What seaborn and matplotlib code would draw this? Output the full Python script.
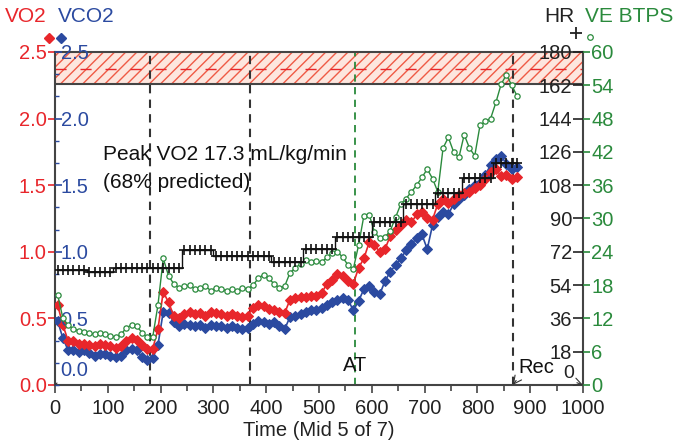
import seaborn as sns
import matplotlib.pyplot as plt
from matplotlib.lines import Line2D
from matplotlib.ticker import MultipleLocator, AutoMinorLocator, FormatStrFormatter

# CPET breath-averaged data
time_s = [5, 15, 25, 35, 45, 55, 65, 75, 85, 95,
          105, 115, 125, 135, 145, 155, 165, 175, 185, 195,
          205, 215, 225, 235, 245, 255, 265, 275, 285, 295,
          305, 315, 325, 335, 345, 355, 365, 375, 385, 395,
          405, 415, 425, 435, 445, 455, 465, 475, 485, 495,
          505, 515, 525, 535, 545, 555, 565, 575, 585, 595,
          605, 615, 625, 635, 645, 655, 665, 675, 685, 695,
          705, 715, 725, 735, 745, 755, 765, 775, 785, 795,
          805, 815, 825, 835, 845, 855, 865, 875]

vo2 = [0.60, 0.45, 0.33, 0.33, 0.31, 0.31, 0.30, 0.29, 0.31, 0.30,
       0.29, 0.28, 0.29, 0.33, 0.35, 0.34, 0.30, 0.27, 0.27, 0.42,
       0.70, 0.62, 0.52, 0.50, 0.53, 0.55, 0.53, 0.54, 0.52, 0.55,
       0.54, 0.53, 0.52, 0.53, 0.52, 0.51, 0.52, 0.58, 0.60, 0.59,
       0.57, 0.56, 0.55, 0.54, 0.64, 0.65, 0.66, 0.66, 0.67, 0.67,
       0.69, 0.76, 0.79, 0.83, 0.82, 0.78, 0.76, 0.88, 0.95, 1.07,
       1.05, 1.00, 1.02, 1.12, 1.16, 1.20, 1.24, 1.22, 1.28, 1.30,
       1.25, 1.24, 1.36, 1.40, 1.37, 1.40, 1.43, 1.44, 1.45, 1.48,
       1.50, 1.55, 1.60, 1.62, 1.57, 1.58, 1.55, 1.56]

vco2 = [0.48, 0.35, 0.26, 0.26, 0.25, 0.26, 0.24, 0.22, 0.23, 0.23,
        0.22, 0.21, 0.22, 0.26, 0.27, 0.26, 0.21, 0.19, 0.20, 0.30,
        0.55, 0.54, 0.47, 0.44, 0.46, 0.45, 0.44, 0.45, 0.43, 0.45,
        0.44, 0.44, 0.43, 0.44, 0.43, 0.42, 0.43, 0.46, 0.48, 0.47,
        0.46, 0.47, 0.44, 0.42, 0.51, 0.52, 0.53, 0.55, 0.56, 0.56,
        0.58, 0.60, 0.62, 0.64, 0.65, 0.64, 0.56, 0.63, 0.72, 0.74,
        0.70, 0.68, 0.78, 0.85, 0.90, 0.95, 1.01, 1.06, 1.10, 1.13,
        1.02, 1.20, 1.26, 1.30, 1.28, 1.36, 1.40, 1.43, 1.47, 1.50,
        1.52, 1.58, 1.65, 1.70, 1.72, 1.66, 1.62, 1.64]

hr_bpm = [62, 62, 62, 62, 62, 62, 61, 61, 61, 61,
          61, 63, 63, 63, 63, 63, 63, 63, 63, 63,
          63, 63, 63, 63, 73, 73, 73, 73, 73, 73,
          69.5, 69.5, 69.5, 69.5, 69.5, 69.5, 69.5, 69.5, 69.5, 69.5,
          69.5, 66.5, 66.5, 66.5, 66.5, 66.5, 66.5, 73.5, 73.5, 73.5,
          73.5, 73.5, 73.5, 80, 80, 80, 80, 80, 80, 80,
          88, 88, 88, 88, 88, 88, 98, 98, 98, 98,
          98, 98, 104, 104, 104, 104, 104, 112, 112, 112,
          112, 112, 112, 120, 120, 120, 120, 120]

ve_lmin = [16.3, 12.0, 10.8, 10.1, 9.8, 9.6, 9.4, 9.1, 9.4, 9.1,
           8.9, 8.6, 9.1, 10.3, 10.8, 10.6, 9.4, 8.6, 8.6, 14.4,
           22.8, 19.7, 18.2, 17.5, 17.8, 18.0, 17.3, 17.5, 17.8, 17.0,
           17.5, 17.3, 17.0, 17.3, 17.0, 17.5, 17.3, 18.0, 19.2, 19.9,
           19.2, 18.2, 17.5, 17.8, 20.2, 21.1, 21.8, 22.6, 22.1, 22.3,
           22.1, 23.0, 23.8, 24.0, 23.0, 21.6, 20.9, 25.2, 30.5, 30.7,
           27.6, 26.4, 26.6, 27.8, 30.2, 32.6, 33.6, 34.8, 36.0, 37.4,
           38.9, 37.2, 34.8, 42.7, 44.6, 42.0, 41.0, 45.1, 42.7, 41.3,
           46.8, 47.5, 48.0, 50.9, 54.2, 55.9, 54.0, 52.1]

phase_lines = [180, 370, 867]
at_time = 568
pred_band = (2.26, 2.5)
pred_peak = 2.37

vo2_ticks = [0.0, 0.5, 1.0, 1.5, 2.0, 2.5]
vco2_ticks = [0.5, 1.0, 1.5, 2.0, 2.5]
hr_ticks = [18, 36, 54, 72, 90, 108, 126, 144, 162, 180]
ve_ticks = [0, 6, 12, 18, 24, 30, 36, 42, 48, 54, 60]

RED = "#e8262b"
BLUE = "#2b4aa0"
GREEN = "#2a8a3c"
FRAME = "#444444"

sns.set_style("ticks")
plt.rcParams['font.family'] = ['Liberation Sans', 'DejaVu Sans']
plt.rcParams['hatch.linewidth'] = 1.0

fig = plt.figure(figsize=(6.79, 4.41), dpi=100)
ax = fig.add_axes([0.081, 0.127, 0.7776, 0.7551])

# predicted peak band
ax.axhspan(pred_band[0], pred_band[1], facecolor="#fde6de", edgecolor="#ef5a45",
           hatch="///", lw=0, zorder=0)
ax.axhline(pred_band[0], color=FRAME, lw=1.5, zorder=1)
ax.axhline(pred_peak, color=RED, lw=1, ls=(0, (8, 10)), zorder=1)

for t in phase_lines:
    ax.axvline(t, color="#333333", lw=1.5, ls=(0, (4, 3)), zorder=1)
ax.axvline(at_time, color=GREEN, lw=1.3, ls=(0, (4, 3)), zorder=1)

# series
sns.lineplot(x=time_s, y=vco2, ax=ax, color=BLUE, lw=1.2, marker="D",
             markersize=5.5, markeredgecolor=BLUE, zorder=3)
sns.lineplot(x=time_s, y=vo2, ax=ax, color=RED, lw=1.2, marker="D",
             markersize=5.5, markeredgecolor=RED, zorder=4)

ax_co2 = ax.twinx()
ax_ve = ax.twinx()
ax_hr = ax.twinx()

sns.lineplot(x=time_s, y=ve_lmin, ax=ax_ve, color=GREEN, lw=1, marker="o",
             markersize=3.8, markerfacecolor="white", markeredgecolor=GREEN,
             markeredgewidth=0.9)
sns.lineplot(x=time_s, y=hr_bpm, ax=ax_hr, color="#111111", lw=1, marker="+",
             markersize=7, markeredgewidth=1.2, markeredgecolor="#111111",
             drawstyle="steps-mid")

# axes limits / ticks
ax.set_xlim(0, 1000)
ax.set_ylim(0, 2.5)
ax.xaxis.set_major_locator(MultipleLocator(100))
ax.xaxis.set_minor_locator(MultipleLocator(50))
ax.tick_params(axis="x", which="major", length=6, width=1.2, color=FRAME,
               labelsize=14.5, pad=4, labelcolor="#222222")
ax.tick_params(axis="x", which="minor", length=4, width=1.2, color=FRAME)
ax.set_yticks(vo2_ticks)
ax.yaxis.set_major_formatter(FormatStrFormatter("%.1f"))
ax.tick_params(axis="y", colors=RED, labelsize=14.5, length=5, width=1.2, pad=1)
ax.set_xlabel("Time (Mid 5 of 7)", fontsize=14.5, labelpad=2, color="#222222")
ax.set_ylabel("")
for s in ax.spines.values():
    s.set_color(FRAME)
    s.set_linewidth(1.5)

ax_co2.set_ylim(0, 2.5)
ax_co2.yaxis.tick_left()
ax_co2.set_yticks(vco2_ticks)
ax_co2.yaxis.set_minor_locator(AutoMinorLocator(3))
ax_co2.yaxis.set_major_formatter(FormatStrFormatter("%.1f"))
ax_co2.tick_params(axis="y", which="major", direction="in", colors=BLUE,
                   labelsize=14.5, length=5, width=1.2, pad=-4)
ax_co2.tick_params(axis="y", which="minor", direction="in", colors=BLUE,
                   length=3, width=1)
for lab in ax_co2.get_yticklabels():
    lab.set_horizontalalignment("left")

ax_hr.set_ylim(0, 180)
ax_hr.set_yticks(hr_ticks)
ax_hr.tick_params(axis="y", direction="in", colors="#222222", labelsize=14.5,
                  length=7, width=1.2, pad=-8)
for lab in ax_hr.get_yticklabels():
    lab.set_horizontalalignment("right")

ax_ve.set_ylim(0, 60)
ax_ve.set_yticks(ve_ticks)
ax_ve.tick_params(axis="y", direction="out", colors=GREEN, labelsize=14.5,
                  length=5, width=1.2, pad=1)

for a in (ax_co2, ax_hr, ax_ve):
    a.set_ylabel("")
    for s in a.spines.values():
        s.set_visible(False)

# annotations
ax.text(91, 1.73, "Peak VO2 17.3 mL/kg/min", fontsize=15, va="center", color="#111111")
ax.text(91, 1.52, "(68% predicted)", fontsize=15, va="center", color="#111111")
ax.text(at_time, 0.15, "AT", fontsize=14.5, ha="center", va="center", color="#111111")
ax.annotate("Rec", xy=(867, 0), xytext=(878, 0.13), fontsize=14.5, va="center",
            ha="left", color="#111111",
            arrowprops=dict(arrowstyle="->", lw=0.8, color="#333333",
                            shrinkA=0, shrinkB=0, relpos=(0, 0)))
ax.annotate("0", xy=(1000, 0), xytext=(972, 0.09), fontsize=14, va="center",
            ha="center", color="#222222",
            arrowprops=dict(arrowstyle="->", lw=0.8, color="#333333",
                            shrinkA=0, shrinkB=0, relpos=(1, 0)))
ax.annotate("0.0", xy=(0, 0), xytext=(10, 0.11), fontsize=14.5, va="center",
            ha="left", color=BLUE,
            arrowprops=dict(arrowstyle="-", lw=0.8, color="#333333",
                            shrinkA=0, shrinkB=0, relpos=(0, 0)))

# series headers
W, H = 679, 441
fig.text(5 / W, 1 - 17 / H, "VO2", color=RED, fontsize=15, va="center")
fig.text(58 / W, 1 - 17 / H, "VCO2", color=BLUE, fontsize=15, va="center")
fig.text(575 / W, 1 - 17 / H, "HR", color="#222222", fontsize=15, va="center", ha="right")
fig.text(585 / W, 1 - 17 / H, "VE BTPS", color=GREEN, fontsize=15, va="center")
fig.add_artist(Line2D([49 / W], [1 - 38 / H], marker="D", ms=5, color=RED,
                      transform=fig.transFigure))
fig.add_artist(Line2D([61 / W], [1 - 38 / H], marker="D", ms=5, color=BLUE,
                      transform=fig.transFigure))
fig.add_artist(Line2D([576 / W], [1 - 33 / H], marker="+", ms=8, mew=1.3,
                      color="#222222", transform=fig.transFigure))
fig.add_artist(Line2D([590 / W], [1 - 37 / H], marker="o", ms=4, mew=0.9,
                      mfc="white", mec=GREEN, transform=fig.transFigure))

fig.savefig("out.png", dpi=100)
plt.close(fig)
